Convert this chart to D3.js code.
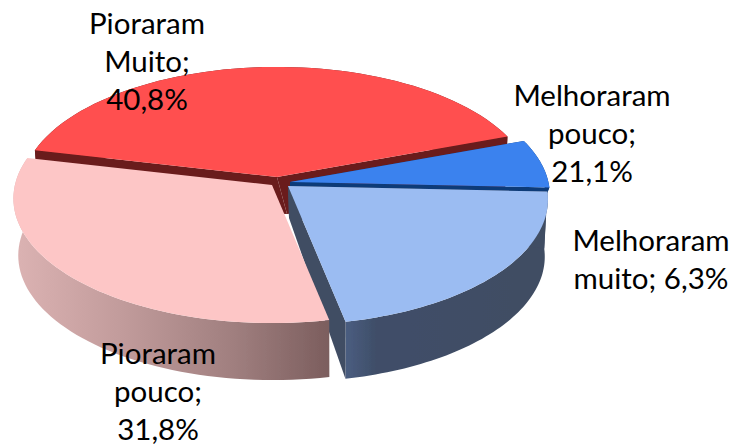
<!DOCTYPE html>
<html><head><meta charset="utf-8">
<script src="https://cdn.jsdelivr.net/npm/d3@7"></script>
<style>html,body{margin:0;padding:0;background:#fff}svg{display:block}</style>
</head><body><svg id="c" width="735" height="444"></svg>
<script>
// data (slice order, clockwise from the left of the back)
const slices = ["Pioraram Muito","Melhoraram muito","Melhoraram pouco","Pioraram pouco"];
const values = [40.8, 6.3, 21.1, 31.8];
const labelLines = [
  ["Pioraram","Muito;","40,8%"],
  ["Melhoraram","pouco;","21,1%"],
  ["Melhoraram","muito; 6,3%"],
  ["Pioraram","pouco;","31,8%"]
];
// style / layout
const topColors  = ["#ff5050","#3b82ee","#9bbcf2","#fdc6c6"];
const wallColors = ["#6a1c1c","#0c3a78","#404d63","#a07f7f"];
const apexes = [[277,177],[290,182],[288,186],[272,185]];
const radii  = [0.975,0.99,0.99,0.985];
const depths = [57,8,57,57];
const apexDepth = [37,8,32,0];
const apexShift = [10,0,1,0];
const labelPos = [[147,34],[592,106],[651,251],[158,364]];
const lineGap = 38;
const A=261,B=125,K=0.11,VX=337,SHR=0.985;

const svg=d3.select("#c");
const defs=svg.append("defs");
defs.append("filter").attr("id","soft").attr("x","-5%").attr("y","-5%").attr("width","110%").attr("height","110%")
  .append("feGaussianBlur").attr("stdDeviation",0.55);
function grad(id,x1,x2,stops){
  const g=defs.append("linearGradient").attr("id",id).attr("gradientUnits","userSpaceOnUse")
    .attr("x1",x1).attr("x2",x2).attr("y1",0).attr("y2",0);
  stops.forEach(s=>g.append("stop").attr("offset",s[0]).attr("stop-color",s[1]));
}
grad("gPink",13,328,[[0,"#dcb3b3"],[0.35,"#c19b9b"],[0.7,"#a07f7f"],[1,"#7c5e5e"]]);
grad("gBlue",346,548,[[0,"#4a5d80"],[0.15,"#3f4e68"],[1,"#404d63"]]);
const wallFill=[wallColors[0],wallColors[1],"url(#gBlue)","url(#gPink)"];

const pie=d3.pie().sort(null).startAngle(-77*Math.PI/180).endAngle(283*Math.PI/180);
const arcs=pie(values);
const proj=(i,t)=>{
  const X=radii[i]*Math.sin(t), Y=-radii[i]*Math.cos(t), s=1/(1-K*Y);
  return [apexes[i][0]+A*X*s, apexes[i][1]+B*Y*s];
};
const down=(p,i)=>[VX+(p[0]-VX)*SHR,p[1]+depths[i]];
const rim=i=>{const a=arcs[i];const n=60;
  return d3.range(n+1).map(k=>proj(i,a.startAngle+(a.endAngle-a.startAngle)*k/n));};
const line=d3.line();
const root=svg.append("g").attr("filter","url(#soft)");
function drawWall(i){
  const r=rim(i),b=r.map(p=>down(p,i));
  root.append("path").attr("d",line([...r,...b.slice().reverse()])+"Z").attr("fill",wallFill[i]);
  if(apexDepth[i]>0){
    const ap=[apexes[i][0]+apexShift[i],apexes[i][1]+apexDepth[i]];
    const face=(t,u)=>root.append("path").attr("d",line([apexes[i],t,u,ap])+"Z").attr("fill",wallColors[i]);
    face(r[0],b[0]);
    face(r[r.length-1],b[b.length-1]);
  }
}
function drawTop(i){
  root.append("path").attr("d",line([apexes[i],...rim(i)])+"Z").attr("fill",topColors[i]);
}
drawWall(0);drawTop(0);drawWall(1);drawTop(1);drawWall(2);drawWall(3);drawTop(3);drawTop(2);

const tg=svg.append("g").attr("font-family","Lato, Carlito, sans-serif").attr("font-size",29.5).attr("fill","#000").attr("text-anchor","middle");
labelLines.forEach((ls,i)=>{
  ls.forEach((t,j)=>tg.append("text").attr("x",labelPos[i][0]).attr("y",labelPos[i][1]+j*lineGap).text(t));
});
</script></body></html>
